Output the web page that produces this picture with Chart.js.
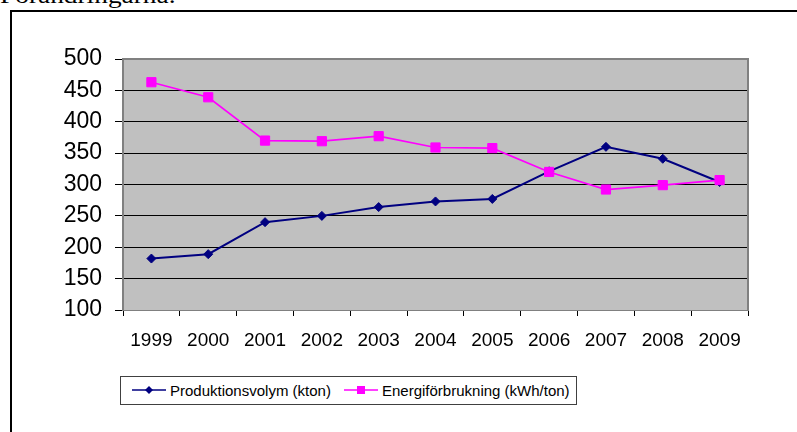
<!DOCTYPE html>
<html><head><meta charset="utf-8">
<script src="https://cdn.jsdelivr.net/npm/chart.js@4"></script>
<style>
html,body{margin:0;padding:0;background:#fff;width:797px;height:432px;overflow:hidden;}
body{position:relative;font-family:"Liberation Sans",Arial,sans-serif;}
#cap{position:absolute;left:0;top:-17px;font:24px/24px "Liberation Serif",serif;transform:scaleX(1.14);transform-origin:0 0;white-space:nowrap;color:#000;}
#frame{position:absolute;left:10px;top:10px;width:820px;height:460px;border-left:2px solid #000;border-top:2px solid #000;}
#c{position:absolute;left:0;top:0;}
#legend{position:absolute;left:120px;top:376px;width:455px;height:27px;border:1px solid #404040;background:#fff;}
.li{position:absolute;top:0;height:27px;}
.li svg{position:absolute;top:8px;left:0;}
.li span{position:absolute;top:5px;font-size:15px;line-height:17px;white-space:nowrap;color:#000;}
</style></head>
<body>
<div id="cap">Förändringarna.</div>
<div id="frame"></div>
<canvas id="c" width="797" height="432"></canvas>
<div id="legend"></div>
<script>
const years = ['1999','2000','2001','2002','2003','2004','2005','2006','2007','2008','2009'];
const produktion = [182, 189, 240, 250, 264, 273, 277, 321, 360, 341, 304];
const energi = [463, 439, 370, 369, 377, 359, 358, 320, 292, 299, 307];
const seriesNames = ['Produktionsvolym (kton)', 'Energiförbrukning (kWh/ton)'];
const yTicks = [100,150,200,250,300,350,400,450,500];

const bgPlugin = {
  id:'bg',
  beforeDraw(chart){
    const a = chart.chartArea, ctx = chart.ctx;
    ctx.save(); ctx.fillStyle = '#C0C0C0';
    ctx.fillRect(a.left, a.top, a.right-a.left, a.bottom-a.top);
    ctx.restore();
  },
  beforeDatasetsDraw(chart){
    const a = chart.chartArea, ctx = chart.ctx;
    ctx.save(); ctx.strokeStyle = '#808080'; ctx.lineWidth = 2;
    ctx.beginPath();
    ctx.moveTo(a.left, a.top); ctx.lineTo(a.right, a.top); ctx.lineTo(a.right, a.bottom);
    ctx.stroke(); ctx.restore();
  }
};

new Chart(document.getElementById('c'), {
  type:'line',
  data:{
    labels: years,
    datasets:[
      {label: seriesNames[0], data: produktion, borderColor:'#000080', backgroundColor:'#000080',
       borderWidth:2, pointStyle:'rectRot', pointRadius:4.5, pointBorderWidth:1, tension:0, order:1},
      {label: seriesNames[1], data: energi, borderColor:'#FF00FF', backgroundColor:'#FF00FF',
       borderWidth:1.7, pointStyle:'rect', pointRadius:6.5, pointBorderWidth:1, tension:0, order:0}
    ]
  },
  options:{
    responsive:false, animation:false,
    layout:{padding:{top:59, right:49, left:0, bottom:82}},
    plugins:{legend:{display:false}, tooltip:{enabled:false}},
    scales:{
      x:{
        offset:true,
        grid:{offset:true, drawOnChartArea:false, tickLength:6, color:'#000', tickColor:'#000'},
        border:{color:'#808080', width:1},
        ticks:{font:{family:'Liberation Sans', size:19}, color:'#000', padding:13, maxRotation:0, autoSkip:false},
        afterFit(s){ s.height = 40; }
      },
      y:{
        min:100, max:500,
        afterBuildTicks(s){ s.ticks = yTicks.map(v=>({value:v})); },
        grid:{color:'#000', lineWidth:1, tickLength:8, tickColor:'#000'},
        border:{color:'#808080', width:2},
        ticks:{font:{family:'Liberation Sans', size:23}, color:'#000', padding:13},
        afterFit(s){ s.width = 123; }
      }
    }
  },
  plugins:[bgPlugin]
});

// HTML legend
const leg = document.getElementById('legend');
const items = [
  {x:11, tx:49, name:seriesNames[0], color:'#000080', marker:'<polygon points="17,1 21,5 17,9 13,5" fill="#000080"/>'},
  {x:223, tx:261, name:seriesNames[1], color:'#FF00FF', marker:'<rect x="13" y="1" width="8" height="8" fill="#FF00FF"/>'}
];
items.forEach(it=>{
  const d = document.createElement('div');
  d.className='li'; d.style.left = it.x+'px';
  d.innerHTML = '<svg width="34" height="10"><line x1="0" y1="5" x2="34" y2="5" stroke="'+it.color+'" stroke-width="1.5"/>'+it.marker+'</svg><span style="left:'+(it.tx-it.x)+'px">'+it.name+'</span>';
  leg.appendChild(d);
});
</script>
</body></html>
